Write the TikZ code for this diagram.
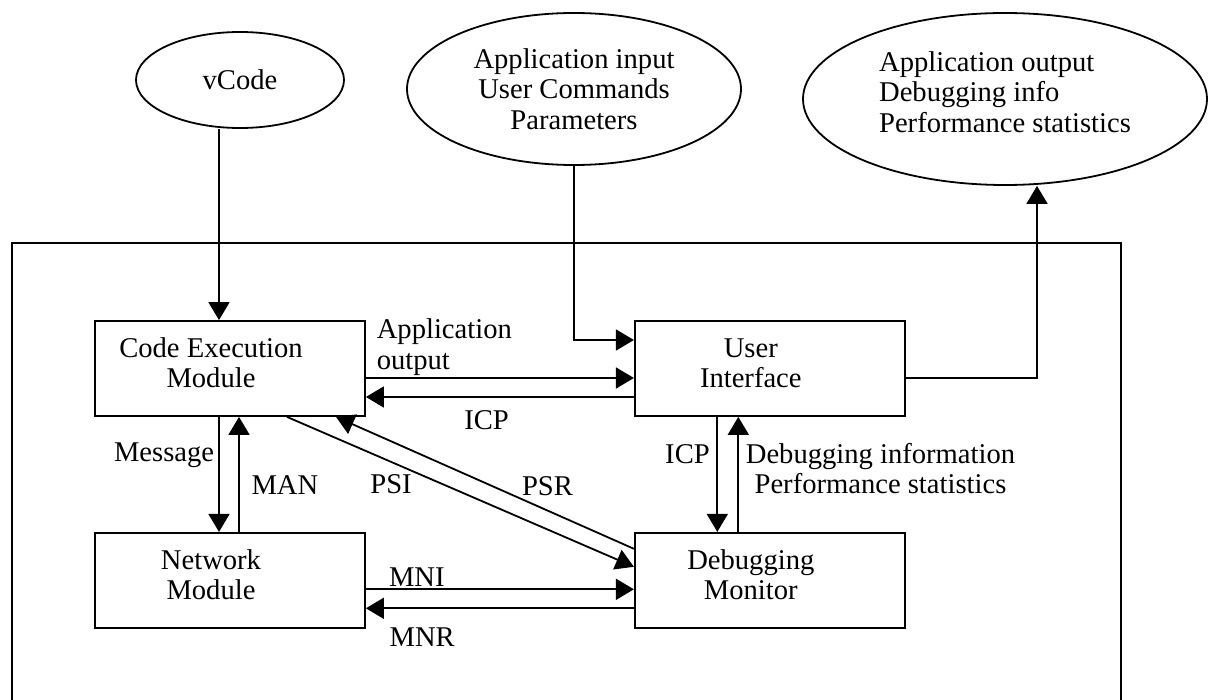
\documentclass[tikz,border=0pt]{standalone}
\usepackage{fontspec}
\setmainfont{Liberation Serif}
\usetikzlibrary{arrows.meta,positioning,shapes.geometric}

\begin{document}
\begin{tikzpicture}[
    x=0.5pt, y=-0.5pt,
    every node/.style={font=\fontsize{14.3}{15.2}\selectfont},
    box/.style={draw, line width=0.9pt, minimum width=135pt, minimum height=47.5pt, inner sep=0pt},
    boxtext/.style={align=center, xshift=-9.5pt, yshift=2.75pt},
    extern/.style={draw, ellipse, line width=0.9pt, inner sep=0pt, align=center},
    flow/.style={-{Triangle[length=9pt,width=10.5pt]}, line width=0.9pt}
]
\useasboundingbox (0,0) rectangle (1210,700);
\node[extern, minimum width=104pt, minimum height=48pt] (vcode) at (240,80) {vCode};
\node[extern, minimum width=167pt, minimum height=76pt] (appin) at (574,89) {Application input\\User Commands\\Parameters};
\node[extern, align=left, text depth=7pt, minimum width=202pt, minimum height=86pt] (appout) at (1005,99) {Application output\\Debugging info\\Performance statistics};
\node[box, label={[boxtext]center:{Code Execution\\Module}}] (cem) at (230,368.5) {};
\node[box, right=134pt of cem, label={[boxtext]center:{User\\Interface}}] (ui) {};
\node[box, below=57.5pt of cem, label={[boxtext]center:{Network\\Module}}] (net) {};
\node[box, right=134pt of net, label={[boxtext]center:{Debugging\\Monitor}}] (dm) {};
% system frame, open at the bottom
\draw[line width=0.9pt] (12,700) |- (1121,243) -- (1121,700);
\draw[flow] ([xshift=-10.5pt]vcode.south) -- ([xshift=-10.5pt]vcode.south |- cem.north);
\draw[flow] (appin.south) |- ([yshift=14.25pt]ui.west);
\draw[flow] ([yshift=-4.75pt]ui.east) -| ([xshift=16pt]appout.south);
\draw[flow] ([yshift=-4.75pt]cem.east) -- ([yshift=-4.75pt]ui.west)
    node[pos=0, above right, align=left, inner xsep=5pt, inner ysep=1pt] {Application\\output};
\draw[flow] ([yshift=-14.25pt]ui.west) -- ([yshift=-14.25pt]cem.east) node[pos=0.55, below=3pt] {ICP};
\draw[flow] ([xshift=-5.5pt]cem.south) -- ([xshift=-5.5pt]cem.south |- net.north)
    node[pos=0.33, left, inner xsep=2pt] {Message};
\draw[flow] ([xshift=4.5pt]net.north) -- ([xshift=4.5pt]net.north |- cem.south) node[pos=0.41, right=2.5pt] {MAN};
\draw[flow] ([xshift=28.5pt]cem.south) -- ([yshift=6.75pt]dm.west) node[pos=0.3, yshift=-11pt] {PSI};
\draw[flow] ([yshift=15.75pt]dm.west) -- ([xshift=53pt]cem.south) node[pos=0.29, yshift=12.3pt] {PSR};
\draw[flow] ([xshift=-26.25pt]ui.south) -- ([xshift=-26.25pt]ui.south |- dm.north) node[pos=0.32, left] {ICP};
\draw[flow] ([xshift=-15.75pt]dm.north) -- ([xshift=-15.75pt]dm.north |- ui.south)
    node[pos=0.55, right, align=center] {Debugging information\\Performance statistics};
\draw[flow] ([yshift=-4.5pt]net.east) -- ([yshift=-4.5pt]dm.west) node[pos=0.19, above, inner ysep=1pt] {MNI};
\draw[flow] ([yshift=-14pt]dm.west) -- ([yshift=-14pt]net.east) node[pos=0.79, below=6pt] {MNR};
\end{tikzpicture}
\end{document}
